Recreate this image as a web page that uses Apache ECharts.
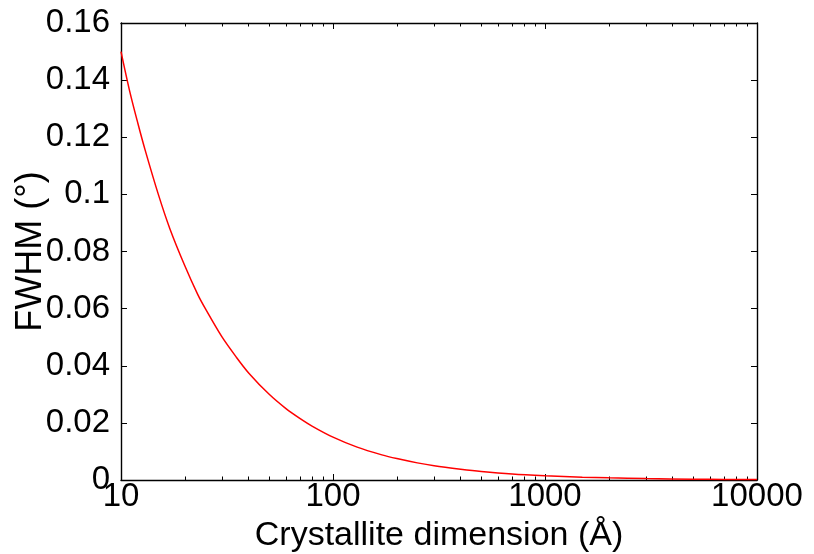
<!DOCTYPE html>
<html>
<head>
<meta charset="utf-8">
<script src="https://cdn.jsdelivr.net/npm/echarts@6/dist/echarts.min.js"></script>
<style>html,body{margin:0;padding:0;background:#fff}#c{width:814px;height:554px}</style>
</head>
<body>
<div id="c"></div>
<script>
// Crystallite dimension (Å) and FWHM (°)
var sizes = [10, 11, 12, 13, 15, 17, 20, 23, 25, 30, 35, 40, 50, 60, 70, 80, 100, 130, 170, 200, 250, 300, 400, 500, 700, 1000, 1500, 2000, 3000, 5000, 7000, 10000];
var fwhm  = [0.150, 0.136, 0.125, 0.1155, 0.100, 0.088, 0.075, 0.065, 0.060, 0.050, 0.043, 0.0375, 0.030, 0.025, 0.0215, 0.0188, 0.015, 0.0115, 0.0088, 0.0075, 0.006, 0.005, 0.0038, 0.003, 0.0021, 0.0015, 0.001, 0.00075, 0.0005, 0.0003, 0.00021, 0.00015];
var xMajorTicks = [10, 100, 1000, 10000];
var xMinorTicks = [20, 30, 40, 50, 60, 70, 80, 90, 200, 300, 400, 500, 600, 700, 800, 900, 2000, 3000, 4000, 5000, 6000, 7000, 8000, 9000];
var yTicks = [0, 0.02, 0.04, 0.06, 0.08, 0.1, 0.12, 0.14, 0.16];
var xTitle = 'Crystallite dimension (Å)';
var yTitle = 'FWHM (°)';

var FONT = 'Liberation Sans, Arial, sans-serif';
var lineStyle = {color: '#000', width: 1.4};
var points = sizes.map(function (s, i) { return [s, fwhm[i]]; });

function xAx(pos, ticks, len, opts) {
  var a = {
    type: 'log', logBase: 10, min: 10, max: 10000, gridIndex: 0, position: pos,
    axisLine: {show: false, lineStyle: lineStyle},
    axisTick: {show: true, inside: true, length: len, customValues: ticks, lineStyle: {color: '#000', width: 1}},
    axisLabel: {show: false},
    splitLine: {show: false}, minorTick: {show: false}
  };
  return Object.assign(a, opts || {});
}

var option = {
  animation: false,
  backgroundColor: '#fff',
  grid: {left: 121, right: 57, top: 23, bottom: 74, containLabel: false, outerBoundsMode: 'none'},
  xAxis: [
    xAx('bottom', xMajorTicks, 6, {
      axisLine: {show: true, lineStyle: lineStyle},
      axisLabel: {show: true, customValues: xMajorTicks, color: '#000', fontSize: 33, fontFamily: FONT, margin: 0,
        formatter: function (v) { return String(Math.round(v)); }},
      name: xTitle, nameLocation: 'middle', nameGap: 39, nameMoveOverlap: false,
      nameTextStyle: {color: '#000', fontSize: 34, fontFamily: FONT}
    }),
    xAx('bottom', xMinorTicks, 3.5),
    xAx('top', xMajorTicks, 6, {axisLine: {show: true, lineStyle: lineStyle}}),
    xAx('top', xMinorTicks, 3.5)
  ],
  yAxis: [
    {
      type: 'value', min: 0, max: 0.16, interval: 0.02, position: 'left',
      axisLine: {show: true, lineStyle: lineStyle},
      axisTick: {show: true, inside: true, length: 6, customValues: yTicks, lineStyle: {color: '#000', width: 1}},
      axisLabel: {color: '#000', fontSize: 33, fontFamily: FONT, margin: 11, customValues: yTicks,
        formatter: function (v) { return String(+v.toFixed(2)); }},
      splitLine: {show: false},
      name: yTitle, nameLocation: 'middle', nameGap: 72, nameRotate: 90, nameMoveOverlap: false,
      nameTextStyle: {color: '#000', fontSize: 36, fontFamily: FONT}
    },
    {
      type: 'value', min: 0, max: 0.16, interval: 0.02, position: 'right',
      axisLine: {show: true, lineStyle: lineStyle},
      axisTick: {show: true, inside: true, length: 6, customValues: yTicks, lineStyle: {color: '#000', width: 1}},
      axisLabel: {show: false},
      splitLine: {show: false}
    }
  ],
  series: [{
    type: 'line', data: points, xAxisIndex: 0, yAxisIndex: 0,
    showSymbol: false, smooth: 0.3,
    lineStyle: {color: '#ff0000', width: 1.5},
    clip: true
  }]
};
echarts.init(document.getElementById('c')).setOption(option);
</script>
</body>
</html>
